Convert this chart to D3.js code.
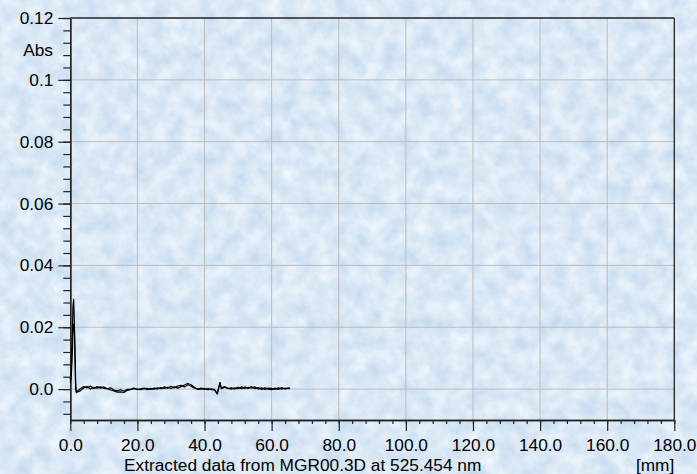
<!DOCTYPE html>
<html>
<head>
<meta charset="utf-8">
<script src="https://cdn.jsdelivr.net/npm/d3@7"></script>
<style>
  html, body { margin: 0; padding: 0; background: #d9e7f5; }
  svg { display: block; }
  text { font-family: "Liberation Sans", Arial, sans-serif; font-size: 17.3px; fill: #000; }
</style>
</head>
<body>
<svg id="chart" width="697" height="474"></svg>
<script>
// Position along the plate [mm]
const positions = [0, 0.3, 0.6, 0.8, 1.0, 1.2, 1.4, 1.6, 1.8, 2,
  3, 4, 5, 6, 7, 8, 9, 10, 11, 12, 13, 14, 15, 16, 17, 18, 19, 20,
  21, 22, 23, 24, 25, 26, 27, 28, 29, 30, 31, 32, 33, 34, 35, 36, 37, 38,
  39, 40, 41, 42, 43, 43.8, 44.6, 45, 46, 47, 48, 49, 50, 51, 52, 53, 54,
  55, 56, 57, 58, 59, 60, 61, 62, 63, 64, 65, 65.5];

// Absorbance, first track
const trackA = [0.0030, 0.0060, 0.0180, 0.0270, 0.0290, 0.0220, 0.0100, 0.0000, -0.0010, -0.0008,
  0.0001, 0.0008, 0.0004, 0.0010, 0.0002, 0.0008, 0.0003, 0.0007, 0.0001, 0.0004,
  -0.0003, -0.0006, -0.0002, -0.0007, -0.0001, 0.0000, 0.0003, -0.0002, 0.0001, 0.0003,
  -0.0002, 0.0002, 0.0000, 0.0004, 0.0001, 0.0007, 0.0003, 0.0009, 0.0004, 0.0010,
  0.0012, 0.0007, 0.0014, 0.0009, 0.0003, 0.0000, 0.0003, -0.0001, 0.0002, -0.0002,
  -0.0003, -0.0014, 0.0020, 0.0004, 0.0008, 0.0001, 0.0004, 0.0000, 0.0006, 0.0001,
  0.0007, 0.0002, 0.0008, 0.0001, 0.0005, -0.0001, 0.0004, 0.0000, -0.0002, 0.0003,
  -0.0001, 0.0005, 0.0000, 0.0004, 0.0002];

// Absorbance, second track
const trackB = [0.0020, 0.0040, 0.0120, 0.0180, 0.0210, 0.0200, 0.0120, 0.0020, -0.0012, -0.0010,
  -0.0006, 0.0004, 0.0008, 0.0000, 0.0005, 0.0003, 0.0007, 0.0002, 0.0001, -0.0003,
  -0.0006, -0.0010, -0.0009, -0.0011, -0.0004, -0.0002, 0.0001, 0.0000, -0.0002, 0.0001,
  0.0002, -0.0001, 0.0003, 0.0000, 0.0005, 0.0002, 0.0006, 0.0002, 0.0007, 0.0003,
  0.0008, 0.0013, 0.0018, 0.0014, 0.0006, -0.0001, 0.0000, 0.0002, -0.0002, 0.0001,
  -0.0002, -0.0016, 0.0022, 0.0001, 0.0006, 0.0003, 0.0000, 0.0004, 0.0001, 0.0007,
  0.0002, 0.0006, 0.0003, 0.0007, 0.0000, 0.0004, -0.0001, 0.0003, 0.0002, -0.0001,
  0.0004, 0.0000, 0.0003, 0.0001, 0.0002];

const xTicks = [0, 20, 40, 60, 80, 100, 120, 140, 160, 180];
const yTicks = [0, 0.02, 0.04, 0.06, 0.08, 0.1, 0.12];
const xMinorStep = 4;
const yMinorStep = 0.004;

(function draw() {
  const svg = d3.select("#chart");
  const W = 697, H = 474;

  // Mottled light-blue paper background
  const defs = svg.append("defs");
  const f = defs.append("filter").attr("id", "paper")
    .attr("x", 0).attr("y", 0).attr("width", "100%").attr("height", "100%")
    .attr("color-interpolation-filters", "sRGB");
  f.append("feTurbulence").attr("type", "fractalNoise")
    .attr("baseFrequency", "0.06").attr("numOctaves", 4).attr("seed", 7).attr("result", "n");
  f.append("feColorMatrix").attr("type", "matrix")
    .attr("values", [
      0.22, 0, 0, 0, 0.745,
      0.15, 0, 0, 0, 0.835,
      0.07, 0, 0, 0, 0.928,
      0, 0, 0, 0, 1].join(" "));
  svg.append("rect").attr("width", W).attr("height", H).attr("fill", "#d9e7f5");
  svg.append("rect").attr("width", W).attr("height", H).attr("filter", "url(#paper)");

  const pLeft = 70.3, pRight = 674.3, pTop = 18, pBottom = 420;
  const x = d3.scaleLinear().domain([0, 180]).range([pLeft, pRight]);
  const y = d3.scaleLinear().domain([-0.01, 0.12]).range([pBottom, pTop]);

  const xMinor = d3.range(0, 180 + 1e-9, xMinorStep);
  const yMinor = d3.range(-0.008, 0.12 + 1e-9, yMinorStep).map(v => +v.toFixed(3));

  // Grid
  const grid = svg.append("g").attr("stroke", "#bcbcbc").attr("stroke-width", 1);
  grid.selectAll("line.v").data(xTicks.filter(t => t > 0 && t < 180)).join("line")
    .attr("class", "v")
    .attr("x1", d => x(d)).attr("x2", d => x(d)).attr("y1", pTop).attr("y2", pBottom);
  grid.selectAll("line.h").data(yTicks.filter(t => t < 0.12)).join("line")
    .attr("class", "h")
    .attr("x1", pLeft).attr("x2", pRight).attr("y1", d => y(d)).attr("y2", d => y(d));

  // Frame (top and right)
  const frame = svg.append("g").attr("stroke", "#222").attr("stroke-width", 1.3).attr("fill", "none");
  frame.append("line").attr("x1", pLeft).attr("x2", pRight).attr("y1", pTop).attr("y2", pTop);
  frame.append("line").attr("x1", pRight).attr("x2", pRight).attr("y1", pTop).attr("y2", pBottom);

  // Axes
  function styleAxis(g) {
    g.select(".domain").attr("stroke", "#222").attr("stroke-width", 1.3);
    g.selectAll(".tick line").attr("stroke", "#222").attr("stroke-width", 1.2);
    g.attr("font-family", null).attr("font-size", null);
    g.selectAll("text").attr("fill", "#000");
  }

  const yFmt = v => v === 0 ? "0.0" : d3.format("~g")(v);
  svg.append("g").attr("transform", `translate(${pLeft},0)`)
    .call(d3.axisLeft(y).tickValues(yMinor).tickSize(7).tickFormat("").tickSizeOuter(0))
    .call(styleAxis);
  svg.append("g").attr("transform", `translate(${pLeft},0)`)
    .call(d3.axisLeft(y).tickValues(yTicks).tickSize(12).tickPadding(5).tickFormat(yFmt).tickSizeOuter(0))
    .call(styleAxis);

  svg.append("g").attr("transform", `translate(0,${pBottom})`)
    .call(d3.axisBottom(x).tickValues(xMinor).tickSize(4).tickFormat("").tickSizeOuter(0))
    .call(styleAxis);
  svg.append("g").attr("transform", `translate(0,${pBottom})`)
    .call(d3.axisBottom(x).tickValues(xTicks).tickSize(11).tickPadding(8).tickFormat(d3.format(".1f")).tickSizeOuter(0))
    .call(styleAxis)
    .selectAll("text").attr("font-size", "17px");

  // Labels
  svg.append("text").attr("x", 53).attr("y", 56).attr("text-anchor", "end").text("Abs");
  svg.append("text").attr("x", 124).attr("y", 470.8).attr("font-size", "17.6px")
    .text("Extracted data from MGR00.3D at 525.454 nm");
  svg.append("text").attr("x", pRight).attr("y", 470.8).attr("text-anchor", "end").text("[mm]");

  // Traces
  const line = d3.line().x((d, i) => x(positions[i])).y(d => y(d));
  [trackA, trackB].forEach(s => {
    svg.append("path").datum(s).attr("d", line)
      .attr("fill", "none").attr("stroke", "#000").attr("stroke-width", 1.2)
      .attr("stroke-linejoin", "round");
  });
})();
</script>
</body>
</html>
